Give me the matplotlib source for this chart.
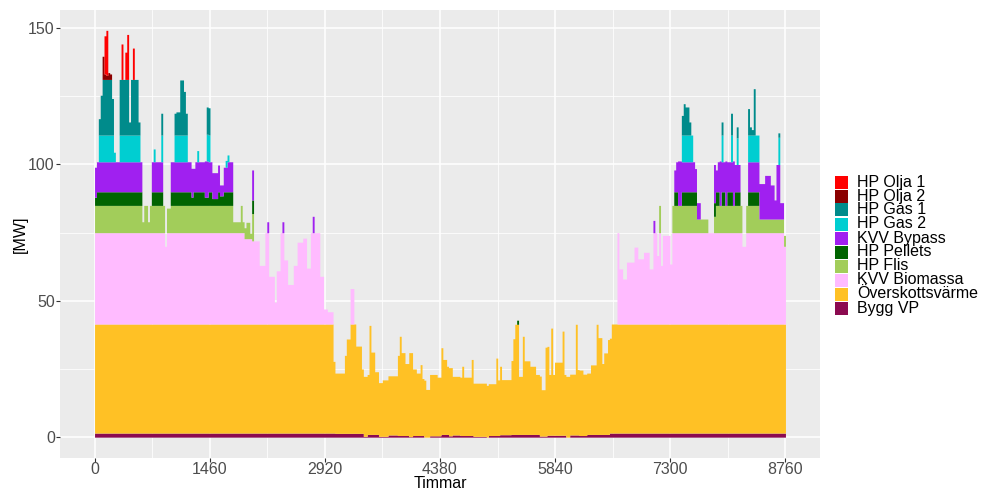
import numpy as np
import matplotlib
matplotlib.use("Agg")
import matplotlib.pyplot as plt
from matplotlib.patches import Rectangle

plt.rcParams["font.family"] = ["Liberation Sans", "DejaVu Sans"]

N_DAYS = 365
HOURS_PER_DAY = 24

# Daily production per source, MW, as (first_day, end_day, MW) runs
bygg_vp = [
    (0, 127, 1.5), (127, 142, 1.4), (142, 144, 0.3), (144, 150, 1.0), (150, 155, 0.3),
    (155, 160, 0.8), (160, 166, 0.6), (166, 168, 0.2), (168, 174, 0.6), (177, 183, 0.5),
    (183, 187, 1.0), (187, 189, 0.5), (189, 193, 0.8), (193, 200, 0.6), (200, 207, 0.3),
    (208, 214, 0.6), (214, 220, 0.9), (220, 235, 1.0), (235, 239, 0.4), (239, 249, 0.7),
    (251, 256, 0.8), (256, 260, 0.6), (260, 272, 1.0), (272, 365, 1.5),
]
overskottsvarme = [
    (0, 126, 40.0), (126, 127, 26.3), (127, 132, 22.1), (132, 133, 28.6), (133, 135, 34.6),
    (135, 138, 40.1), (138, 141, 32.0), (141, 142, 23.6), (142, 145, 22.0), (145, 146, 40.0),
    (146, 148, 30.2), (148, 150, 23.0), (150, 152, 19.7), (152, 155, 20.7), (155, 160, 21.7),
    (160, 161, 29.4), (161, 162, 36.4), (162, 164, 30.4), (164, 166, 26.4), (166, 168, 30.8),
    (168, 170, 24.4), (170, 172, 22.9), (172, 173, 26.0), (173, 175, 20.9), (175, 177, 17.5),
    (177, 181, 22.5), (181, 183, 21.5), (183, 184, 31.8), (184, 186, 27.5), (186, 189, 25.0),
    (189, 193, 21.5), (193, 194, 21.4), (194, 195, 25.4), (195, 199, 21.4), (199, 200, 27.9),
    (200, 207, 19.5), (207, 212, 19.0), (212, 213, 28.4), (213, 214, 20.4), (214, 215, 25.1),
    (215, 220, 20.2), (220, 221, 27.1), (221, 222, 35.1), (222, 224, 40.4), (224, 226, 21.3),
    (226, 227, 36.0), (227, 230, 27.0), (230, 233, 25.0), (233, 236, 22.0), (236, 238, 17.0),
    (238, 240, 32.6), (240, 241, 22.3), (241, 242, 39.3), (242, 243, 22.3), (243, 247, 26.8),
    (247, 248, 38.2), (248, 254, 22.3), (254, 255, 40.6), (255, 258, 24.0), (258, 262, 22.5),
    (262, 265, 25.5), (265, 266, 40.4), (266, 268, 35.5), (268, 269, 26.0), (269, 271, 29.9),
    (271, 273, 34.8), (273, 365, 40.0),
]
kvv_biomassa = [
    (0, 37, 33.5), (37, 38, 28.5), (38, 79, 33.5), (79, 83, 31.3), (83, 87, 30.5),
    (87, 90, 21.5), (90, 92, 33.5), (92, 95, 17.5), (95, 96, 8.0), (96, 98, 19.5),
    (98, 100, 33.5), (100, 102, 23.5), (102, 105, 14.5), (105, 107, 21.5), (107, 110, 30.0),
    (110, 112, 31.5), (112, 114, 20.5), (114, 119, 33.5), (119, 121, 17.5), (121, 123, 5.5),
    (123, 126, 4.5), (135, 137, 13.0), (276, 277, 33.5), (277, 279, 20.2), (279, 281, 16.5),
    (281, 285, 22.7), (285, 287, 28.2), (287, 290, 23.9), (290, 293, 26.3), (293, 295, 20.2),
    (295, 297, 33.5), (297, 298, 25.1), (298, 299, 33.5), (299, 300, 21.5), (300, 304, 32.5),
    (304, 305, 22.0), (305, 342, 33.5), (342, 344, 28.5), (344, 364, 33.5), (364, 365, 28.5),
]
hp_flis = [
    (0, 25, 10), (25, 26, 4), (26, 28, 10), (28, 29, 4), (29, 37, 10), (38, 40, 9),
    (40, 73, 10), (73, 77, 4), (77, 78, 10), (78, 80, 4), (80, 82, 6), (82, 83, 2),
    (83, 84, 10), (298, 299, 10), (305, 318, 10), (318, 324, 5), (327, 328, 6),
    (328, 342, 10), (344, 351, 10), (351, 364, 5), (364, 365, 4),
]
hp_pellets = [
    (0, 1, 3), (1, 25, 5), (30, 36, 5), (40, 51, 5), (51, 52, 3), (52, 58, 5), (58, 60, 3),
    (60, 62, 5), (62, 65, 2.5), (65, 66, 5), (66, 68, 3.5), (68, 73, 5), (83, 84, 5),
    (223, 224, 1.5), (306, 308, 5), (310, 318, 5), (327, 330, 5), (331, 333, 5),
    (334, 337, 5), (338, 341, 5), (345, 351, 5),
]
kvv_bypass = [
    (0, 25, 11), (30, 36, 11), (40, 51, 11), (51, 52, 10.6), (52, 53, 8.6), (53, 58, 11),
    (58, 60, 13.3), (60, 62, 11), (62, 65, 9.5), (65, 66, 9.8), (66, 68, 4), (68, 70, 9),
    (70, 73, 11), (83, 84, 11), (91, 92, 4), (99, 100, 4), (115, 116, 6), (295, 296, 4.5),
    (306, 307, 8), (307, 308, 11), (308, 310, 16.3), (310, 317, 11), (317, 318, 8.5),
    (318, 320, 6), (327, 328, 14), (328, 329, 8), (329, 330, 11), (330, 331, 16.3),
    (331, 333, 11), (333, 334, 16.3), (334, 337, 11), (337, 338, 16.3), (338, 341, 10),
    (345, 351, 11), (351, 354, 13), (354, 357, 16), (357, 359, 12.5), (359, 360, 7),
    (360, 362, 20), (362, 364, 6),
]
hp_gas_2 = [
    (2, 10, 9.8), (10, 11, 3.5), (13, 24, 9.8), (31, 32, 4.7), (35, 36, 9.8), (42, 49, 9.8),
    (54, 55, 4.1), (59, 61, 9.8), (69, 71, 2.5), (310, 316, 9.8), (331, 332, 9.8),
    (336, 337, 9.8), (339, 340, 9.8), (345, 351, 9.8), (361, 362, 10),
]
hp_gas_1 = [
    (2, 3, 6), (3, 4, 14.6), (4, 9, 20.4), (9, 10, 13.4), (13, 18, 20.4), (18, 19, 4.8),
    (19, 23, 20.4), (23, 24, 4.8), (35, 36, 8), (42, 43, 8), (43, 45, 8.5), (45, 47, 20.2),
    (47, 48, 16), (48, 49, 8), (59, 61, 10), (310, 311, 7.2), (311, 312, 11.5),
    (312, 314, 10.3), (314, 315, 4.8), (331, 332, 4.8), (336, 337, 8), (339, 340, 4),
    (345, 346, 9.7), (346, 347, 3), (347, 348, 2), (348, 349, 17), (361, 362, 1.6),
]
hp_olja_2 = [(4, 5, 8.5), (5, 6, 2), (6, 7, 1.5), (7, 8, 2.5), (8, 9, 2)]
hp_olja_1 = [(5, 6, 14), (6, 7, 16.5), (14, 15, 13), (16, 17, 10), (17, 18, 16.5), (20, 21, 11.5)]

# Stacking order, bottom to top
layers = [
    ("Bygg VP", "#8B0A50", bygg_vp),
    ("Överskottsvärme", "#FFC125", overskottsvarme),
    ("KVV Biomassa", "#FFBBFF", kvv_biomassa),
    ("HP Flis", "#A2CD5A", hp_flis),
    ("HP Pellets", "#006400", hp_pellets),
    ("KVV Bypass", "#A020F0", kvv_bypass),
    ("HP Gas 2", "#00CED1", hp_gas_2),
    ("HP Gas 1", "#008B8B", hp_gas_1),
    ("HP Olja 2", "#8B0000", hp_olja_2),
    ("HP Olja 1", "#FF0000", hp_olja_1),
]

x_ticks = [0, 1460, 2920, 4380, 5840, 7300, 8760]
y_ticks = [0, 50, 100, 150]


def daily(runs):
    v = np.zeros(N_DAYS)
    for start, end, mw in runs:
        v[start:end] = mw
    return v


W, H = 986, 493
fig = plt.figure(figsize=(W / 100, H / 100), dpi=100)
ax = fig.add_axes([60 / W, 35.5 / H, 760 / W, 447.5 / H])
ax.set_facecolor("#EBEBEB")

hours = np.arange(N_DAYS + 1) * HOURS_PER_DAY
base = np.zeros(N_DAYS)
for name, color, runs in layers:
    top = base + daily(runs)
    ax.fill_between(hours, np.append(base, base[-1]), np.append(top, top[-1]),
                    step="post", color=color, linewidth=0, zorder=2)
    base = top

xmax = N_DAYS * HOURS_PER_DAY
ymax = base.max()
ax.set_xlim(-0.05 * xmax, 1.05 * xmax)
ax.set_ylim(-0.05 * ymax, 1.05 * ymax)

ax.set_xticks(x_ticks)
ax.set_xticks([(a + b) / 2 for a, b in zip(x_ticks[:-1], x_ticks[1:])], minor=True)
ax.set_yticks(y_ticks)
ax.set_yticks([(a + b) / 2 for a, b in zip(y_ticks[:-1], y_ticks[1:])], minor=True)
ax.grid(which="major", color="white", linewidth=1.1, zorder=0)
ax.grid(which="minor", color="white", linewidth=0.55, zorder=0)
ax.set_axisbelow(True)
for s in ax.spines.values():
    s.set_visible(False)
ax.tick_params(which="major", length=2.75, width=0.8, color="#333333",
               labelcolor="#4D4D4D", labelsize=11.5)
ax.tick_params(axis="x", which="major", pad=0.3)
ax.tick_params(axis="y", which="major", pad=1.0)
ax.tick_params(which="minor", length=0)

fig.text(20 / W, 1 - 234 / H, "[MW]", rotation=90, ha="center", va="center",
         fontsize=11.5, color="black")
fig.text(440 / W, 1 - 488.5 / H, "Timmar", ha="center", va="baseline",
         fontsize=11.5, color="black")

# Legend, top entry first
for i, (name, color, _) in enumerate(reversed(layers)):
    y_top = 175.5 + 14 * i
    fig.add_artist(Rectangle((835 / W, 1 - (y_top + 13) / H), 13 / W, 13 / H,
                             transform=fig.transFigure, facecolor=color, edgecolor="none"))
    fig.text(857 / W, 1 - (y_top + 6.5) / H, name, ha="left", va="center",
             fontsize=11.5, color="black")

fig.savefig("out.png", dpi=100)
